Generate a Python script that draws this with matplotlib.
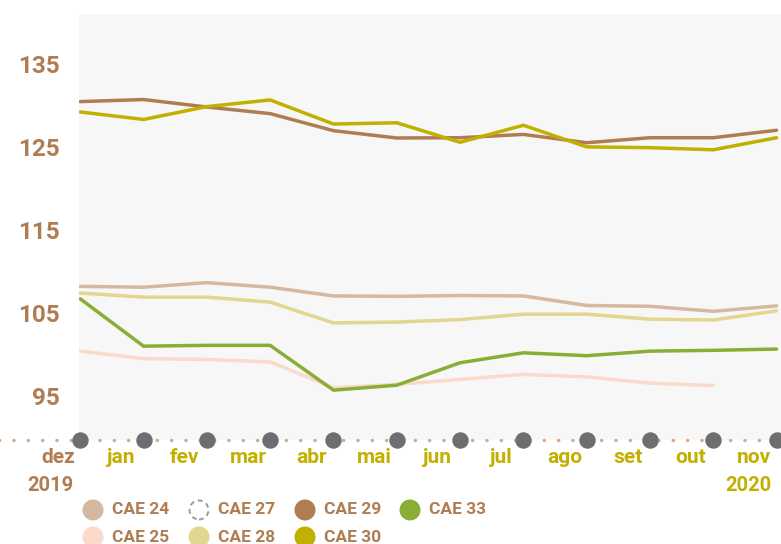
import numpy as np
import matplotlib.pyplot as plt
from matplotlib.patches import Circle

plt.rcParams['font.family'] = ['Roboto', 'DejaVu Sans']

# meses (dez 2019 .. nov 2020)
meses = ['dez', 'jan', 'fev', 'mar', 'abr', 'mai', 'jun', 'jul', 'ago', 'set', 'out', 'nov']

cae24 = [108.2, 108.1, 108.65, 108.1, 107.05, 107.0, 107.1, 107.05, 105.9, 105.8, 105.2, 105.85]
cae25 = [100.4, 99.5, 99.4, 99.1, 96.0, 96.4, 97.0, 97.6, 97.3, 96.55, 96.25, np.nan]
cae28 = [107.4, 106.9, 106.9, 106.3, 103.8, 103.9, 104.2, 104.85, 104.85, 104.25, 104.15, 105.25]
cae29 = [130.45, 130.7, 129.8, 129.0, 126.95, 126.07, 126.1, 126.5, 125.5, 126.1, 126.1, 127.0]
cae30 = [129.2, 128.3, 129.85, 130.65, 127.75, 127.9, 125.55, 127.6, 125.0, 124.9, 124.65, 126.1]
cae33 = [106.7, 101.0, 101.1, 101.1, 95.7, 96.3, 99.0, 100.2, 99.85, 100.4, 100.5, 100.65]

yticks = [95, 105, 115, 125, 135]

BROWN = '#b07d52'
OLIVE = '#c2b000'

series = [
    (cae24, '#d6b8a0'),
    (cae25, '#fbd9cb'),
    (cae28, '#e2d690'),
    (cae33, '#8aae35'),
    (cae29, BROWN),
    (cae30, OLIVE),
]

fig = plt.figure(figsize=(7.81, 5.44), dpi=100)
ax = fig.add_axes([79 / 781, 1 - 440 / 544, 702 / 781, 426 / 544])
ax.set_facecolor('#f7f7f7')

x = np.arange(len(meses))
for vals, c in series:
    ax.plot(x, vals, color=c, lw=2.5, solid_joinstyle='round', solid_capstyle='round')

ax.set_xlim(-0.02, 11.07)
ax.set_ylim(89.7, 141.0)

for s in ax.spines.values():
    s.set_visible(False)

ax.set_yticks(yticks)
ax.set_yticklabels([str(t) for t in yticks], fontsize=17.5, fontweight='bold', color=BROWN)
ax.tick_params(axis='y', length=0, pad=14)
ax.set_xticks([])

# eixo pontilhado + marcadores
ax.plot([-1.3, 11.07], [89.7, 89.7], ls=(0, (0.1, 4.2)), lw=2.4, color='#d3aa8c',
        dash_capstyle='round', clip_on=False, zorder=3)
ax.scatter(x, np.full(len(x), 89.7), s=140, color='#6e6e70', clip_on=False, zorder=4, lw=0)

xt = ax.get_xaxis_transform()
for i, m in enumerate(meses):
    ax.text(i - 0.35, -0.04, m, transform=xt, ha='center', va='center', fontsize=15,
            fontweight='bold', color=BROWN if i == 0 else OLIVE)
ax.text(-0.47, -0.106, '2019', transform=xt, ha='center', va='center', fontsize=14.5,
        fontweight='bold', color=BROWN)
ax.text(10.55, -0.106, '2020', transform=xt, ha='center', va='center', fontsize=14.5,
        fontweight='bold', color=OLIVE)

# legenda
legenda = [
    ('CAE 24', '#d6b8a0', 93, 510),
    ('CAE 25', '#fbd9cb', 93, 537),
    ('CAE 27', None, 199, 510),
    ('CAE 28', '#e2d690', 199, 537),
    ('CAE 29', BROWN, 305, 510),
    ('CAE 30', OLIVE, 305, 537),
    ('CAE 33', '#8aae35', 410, 510),
]
H = 5.44
for lab, c, px, py in legenda:
    cx, cy = px / 100, H - py / 100
    if c is None:
        circ = Circle((cx, cy), 0.095, transform=fig.dpi_scale_trans, facecolor='none',
                      edgecolor='#9a9a9a', lw=1.4, ls=(0, (2.5, 2)))
    else:
        circ = Circle((cx, cy), 0.105, transform=fig.dpi_scale_trans, facecolor=c,
                      edgecolor='none')
    fig.add_artist(circ)
    fig.text((px + 19) / 781, 1 - py / 544, lab, ha='left', va='center', fontsize=12.5,
             fontweight='bold', color=BROWN)

fig.savefig('out.png', dpi=100)
